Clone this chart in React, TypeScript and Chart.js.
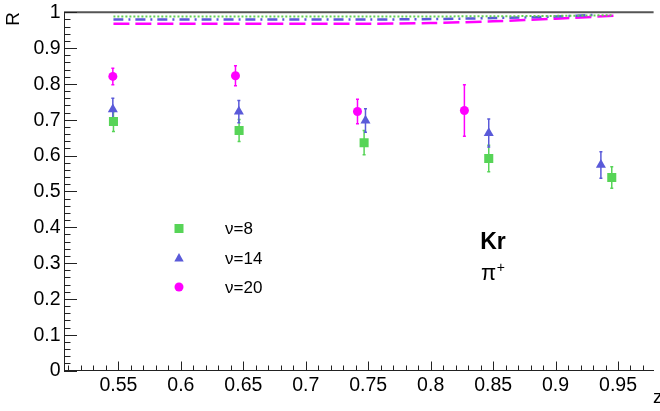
import React, { useEffect, useRef } from 'react';
import { Chart, registerables } from 'chart.js';

Chart.register(...registerables);

// Measured ratios R(z) for three ν bins, with statistical errors
const zV8 = [0.546, 0.6466, 0.7467, 0.8465, 0.945];
const rV8 = [0.695, 0.67, 0.636, 0.592, 0.539];
const eV8 = [0.028, 0.031, 0.034, 0.037, 0.03];

const zV14 = [0.5455, 0.6464, 0.7478, 0.8465, 0.9363];
const rV14 = [0.729, 0.723, 0.698, 0.663, 0.574];
const eV14 = [0.031, 0.031, 0.033, 0.039, 0.037];

const zV20 = [0.5455, 0.6437, 0.7414, 0.827];
const rV20 = [0.821, 0.823, 0.723, 0.726];
const eV20 = [0.023, 0.028, 0.034, 0.072];

// Model curves near R = 1
const curveZ8 = [0.546, 0.65, 0.75, 0.85, 0.9, 0.9455];
const curveR8 = [0.988, 0.988, 0.988, 0.989, 0.99, 0.992];
const curveZ14 = [0.546, 0.65, 0.75, 0.8, 0.85, 0.9, 0.9335];
const curveR14 = [0.98, 0.98, 0.98, 0.981, 0.984, 0.988, 0.993];
const curveZ20 = [0.546, 0.65, 0.75, 0.8, 0.85, 0.9, 0.949];
const curveR20 = [0.968, 0.968, 0.968, 0.97, 0.975, 0.982, 0.991];

const seriesLabels = ['ν=8', 'ν=14', 'ν=20'];

const xTickValues = [0.55, 0.6, 0.65, 0.7, 0.75, 0.8, 0.85, 0.9, 0.95];
const xTickLabels = ['0.55', '0.6', '0.65', '0.7', '0.75', '0.8', '0.85', '0.9', '0.95'];
const yTickValues = [0, 0.1, 0.2, 0.3, 0.4, 0.5, 0.6, 0.7, 0.8, 0.9, 1];
const yTickLabels = ['0', '0.1', '0.2', '0.3', '0.4', '0.5', '0.6', '0.7', '0.8', '0.9', '1'];

const xTitle = 'z';
const yTitle = 'R';
const targetLabel = 'Kr';
const hadronLabel = 'π';
const hadronCharge = '+';

const GREEN = '#57d457';
const BLUE = '#5a5ad9';
const MAGENTA = '#ff00ff';
const GREEN_LINE = '#62cf52';
const FONT = '"Liberation Sans", Arial, Helvetica, sans-serif';

const pts = (zs: number[], rs: number[]) => zs.map((z, i) => ({ x: z, y: rs[i] }));

const errSeries = [
  { z: zV8, r: rV8, e: eV8, color: GREEN },
  { z: zV14, r: rV14, e: eV14, color: BLUE },
  { z: zV20, r: rV20, e: eV20, color: MAGENTA },
];

const drawMarker = (ctx: CanvasRenderingContext2D, kind: string, cx: number, cy: number, color: string) => {
  ctx.fillStyle = color;
  ctx.beginPath();
  if (kind === 'rect') {
    ctx.rect(cx - 4.5, cy - 4.5, 9, 9);
  } else if (kind === 'triangle') {
    ctx.moveTo(cx, cy - 5.5);
    ctx.lineTo(cx + 4.7, cy + 3);
    ctx.lineTo(cx - 4.7, cy + 3);
    ctx.closePath();
  } else {
    ctx.arc(cx, cy, 4.5, 0, Math.PI * 2);
  }
  ctx.fill();
};

const overlay = {
  id: 'overlay',
  beforeDatasetsDraw(chart: any) {
    const { ctx } = chart;
    const x = chart.scales.x;
    const y = chart.scales.y;
    ctx.save();
    ctx.lineWidth = 1.5;
    errSeries.forEach((s) => {
      ctx.strokeStyle = s.color;
      s.z.forEach((zv, i) => {
        const px = x.getPixelForValue(zv);
        const top = y.getPixelForValue(s.r[i] + s.e[i]);
        const bot = y.getPixelForValue(s.r[i] - s.e[i]);
        ctx.beginPath();
        ctx.moveTo(px, top);
        ctx.lineTo(px, bot);
        ctx.moveTo(px - 1.5, top);
        ctx.lineTo(px + 1.5, top);
        ctx.moveTo(px - 1.5, bot);
        ctx.lineTo(px + 1.5, bot);
        ctx.stroke();
      });
    });
    ctx.restore();
  },
  afterDraw(chart: any) {
    const { ctx, chartArea } = chart;
    const x = chart.scales.x;
    const y = chart.scales.y;
    ctx.save();

    // frame top
    ctx.strokeStyle = '#555';
    ctx.lineWidth = 2;
    ctx.beginPath();
    ctx.moveTo(chartArea.left, chartArea.top);
    ctx.lineTo(chartArea.right, chartArea.top);
    ctx.stroke();

    // inward tick marks
    ctx.strokeStyle = '#222';
    ctx.lineWidth = 1;
    ctx.beginPath();
    for (let i = 0; i <= 50; i++) {
      const py = Math.round(y.getPixelForValue(i / 50)) + 0.5;
      const len = i % 5 === 0 ? 13 : 6.5;
      ctx.moveTo(chartArea.left, py);
      ctx.lineTo(chartArea.left + len, py);
    }
    for (let i = 51; i <= 97; i++) {
      const px = Math.round(x.getPixelForValue(i / 100)) + 0.5;
      const len = i % 5 === 0 ? 9 : 5;
      ctx.moveTo(px, chartArea.bottom);
      ctx.lineTo(px, chartArea.bottom - len);
    }
    ctx.stroke();

    ctx.fillStyle = '#000';
    // tick labels
    ctx.font = `19.5px ${FONT}`;
    ctx.textBaseline = 'middle';
    ctx.textAlign = 'right';
    yTickValues.forEach((v, i) => {
      ctx.fillText(yTickLabels[i], chartArea.left - 3.5, y.getPixelForValue(v) + 0.5);
    });
    ctx.textAlign = 'center';
    xTickValues.forEach((v, i) => {
      ctx.fillText(xTickLabels[i], x.getPixelForValue(v), chartArea.bottom + 15.5);
    });

    // axis titles
    ctx.font = `19px ${FONT}`;
    ctx.save();
    ctx.translate(14, 19);
    ctx.rotate(-Math.PI / 2);
    ctx.fillText(yTitle, 0, 0);
    ctx.restore();
    ctx.textAlign = 'left';
    ctx.fillText(xTitle, 653, 398);

    // target / hadron annotation
    ctx.font = `bold 23px ${FONT}`;
    ctx.textAlign = 'center';
    ctx.fillText(targetLabel, 493, 243);
    ctx.textAlign = 'left';
    ctx.textBaseline = 'alphabetic';
    ctx.font = `22px ${FONT}`;
    ctx.fillText(hadronLabel, 481, 280);
    const pw = ctx.measureText(hadronLabel).width;
    ctx.font = `14px ${FONT}`;
    ctx.fillText(hadronCharge, 481 + pw + 0.5, 272);

    // legend
    const kinds = ['rect', 'triangle', 'circle'];
    const colors = [GREEN, BLUE, MAGENTA];
    const rows = [228.5, 258.5, 287];
    ctx.font = `17px ${FONT}`;
    ctx.textBaseline = 'middle';
    rows.forEach((ry, i) => {
      drawMarker(ctx, kinds[i], 179, ry, colors[i]);
      ctx.fillStyle = '#000';
      ctx.fillText(seriesLabels[i], 225, ry + 1);
    });
    ctx.restore();
  },
};

export default function App() {
  const ref = useRef<HTMLCanvasElement | null>(null);

  useEffect(() => {
    if (!ref.current) return;
    Chart.defaults.font.family = FONT;
    const chart = new Chart(ref.current, {
      type: 'scatter',
      data: {
        datasets: [
          {
            label: seriesLabels[0] + ' curve',
            data: pts(curveZ8, curveR8),
            showLine: true,
            borderColor: GREEN_LINE,
            borderWidth: 2,
            borderDash: [2, 2],
            pointRadius: 0,
            tension: 0.3,
          },
          {
            label: seriesLabels[1] + ' curve',
            data: pts(curveZ14, curveR14),
            showLine: true,
            borderColor: BLUE,
            borderWidth: 2.5,
            borderDash: [10, 5, 2, 5],
            pointRadius: 0,
            tension: 0.3,
          },
          {
            label: seriesLabels[2] + ' curve',
            data: pts(curveZ20, curveR20),
            showLine: true,
            borderColor: MAGENTA,
            borderWidth: 2.5,
            borderDash: [16, 6],
            pointRadius: 0,
            tension: 0.3,
          },
          {
            label: seriesLabels[0],
            data: pts(zV8, rV8),
            pointStyle: 'rect',
            pointRadius: 6.4,
            backgroundColor: GREEN,
            borderColor: GREEN,
            borderWidth: 0,
          },
          {
            label: seriesLabels[1],
            data: pts(zV14, rV14),
            pointStyle: 'triangle',
            pointRadius: 5.8,
            backgroundColor: BLUE,
            borderColor: BLUE,
            borderWidth: 0,
          },
          {
            label: seriesLabels[2],
            data: pts(zV20, rV20),
            pointStyle: 'circle',
            pointRadius: 4.5,
            backgroundColor: MAGENTA,
            borderColor: MAGENTA,
            borderWidth: 0,
          },
        ],
      },
      options: {
        animation: false,
        responsive: false,
        devicePixelRatio: 1,
        layout: { padding: { top: 12.3, right: 0, left: 0, bottom: 0 } },
        plugins: { legend: { display: false }, tooltip: { enabled: false } },
        scales: {
          x: {
            type: 'linear',
            min: 0.5064,
            max: 0.9785,
            afterFit: (scale: any) => {
              scale.height = 40.5;
            },
            ticks: { display: false },
            grid: { display: true, drawOnChartArea: false, drawTicks: false },
            border: { display: true, color: '#222', width: 1 },
          },
          y: {
            type: 'linear',
            min: 0,
            max: 1,
            afterFit: (scale: any) => {
              scale.width = 64;
            },
            ticks: { display: false },
            grid: { display: true, drawOnChartArea: false, drawTicks: false },
            border: { display: true, color: '#222', width: 1 },
          },
        },
      },
      plugins: [overlay],
    });
    return () => chart.destroy();
  }, []);

  return (
    <div style={{ position: 'fixed', left: 0, top: 0, width: 660, height: 411, background: '#fff' }}>
      <canvas ref={ref} width={660} height={411} />
    </div>
  );
}
